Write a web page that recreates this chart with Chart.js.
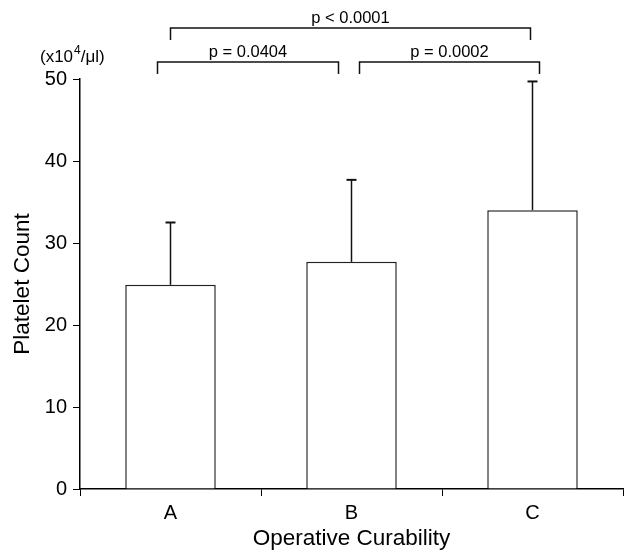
<!DOCTYPE html>
<html>
<head>
<meta charset="utf-8">
<style>
  html, body { margin: 0; padding: 0; background: #fff; }
  canvas { display: block; }
</style>
</head>
<body>
<canvas id="barChart" width="625" height="553"></canvas>
<script src="https://cdn.jsdelivr.net/npm/chart.js"></script>
<script>
    var categories = ['A', 'B', 'C'];
    var means = [24.9, 27.7, 34.0];
    var sds = [7.6, 10.0, 15.7];
    var yTicks = [0, 10, 20, 30, 40, 50];
    // p-value brackets: from category, to category, label, row (0 = lower)
    var comparisons = [
        { from: 0, to: 1, label: 'p = 0.0404', row: 0 },
        { from: 1, to: 2, label: 'p = 0.0002', row: 0 },
        { from: 0, to: 2, label: 'p < 0.0001', row: 1 }
    ];

    var FONT = "'Liberation Sans', Arial, Helvetica, sans-serif";

    var errorBars = {
        id: 'errorBars',
        afterDatasetsDraw: function (chart) {
            var ctx = chart.ctx;
            var x = chart.scales.x, y = chart.scales.y;
            ctx.save();
            ctx.strokeStyle = '#111';
            for (var i = 0; i < means.length; i++) {
                var px = x.getPixelForValue(i);
                var top = y.getPixelForValue(means[i] + sds[i]);
                var base = y.getPixelForValue(means[i]);
                ctx.lineWidth = 1.5;
                ctx.beginPath();
                ctx.moveTo(px, base);
                ctx.lineTo(px, top);
                ctx.stroke();
                ctx.lineWidth = 2;
                ctx.beginPath();
                ctx.moveTo(px - 5, top);
                ctx.lineTo(px + 5, top);
                ctx.stroke();
            }
            ctx.restore();
        }
    };

    var brackets = {
        id: 'brackets',
        afterDraw: function (chart) {
            var ctx = chart.ctx;
            var x = chart.scales.x;
            var area = chart.chartArea;
            ctx.save();
            ctx.strokeStyle = '#111';
            ctx.fillStyle = '#000';
            ctx.lineWidth = 1.5;
            ctx.font = '16.5px ' + FONT;
            ctx.textAlign = 'center';
            ctx.textBaseline = 'alphabetic';
            comparisons.forEach(function (c) {
                var x1, x2;
                if (c.row === 1) {
                    x1 = x.getPixelForValue(c.from);
                    x2 = x.getPixelForValue(c.to) - 2;
                } else if (c.from === 0) {
                    x1 = x.getPixelForValue(c.from) - 13;
                    x2 = x.getPixelForValue(c.to) - 13;
                } else {
                    x1 = x.getPixelForValue(c.from) + 8;
                    x2 = x.getPixelForValue(c.to) + 7;
                }
                var yLine = area.top - 17 - c.row * 34;
                var yEnd = yLine + 12;
                ctx.beginPath();
                ctx.moveTo(x1, yEnd);
                ctx.lineTo(x1, yLine);
                ctx.lineTo(x2, yLine);
                ctx.lineTo(x2, yEnd);
                ctx.stroke();
                ctx.fillText(c.label, (x1 + x2) / 2, yLine - 5);
            });

            // unit label (x10^4/ul)
            var ux = 40, uy = 62;
            ctx.textAlign = 'left';
            ctx.font = '17px ' + FONT;
            var s1 = '(x10';
            ctx.fillText(s1, ux, uy);
            ux += ctx.measureText(s1).width + 1;
            ctx.font = '12px ' + FONT;
            ctx.fillText('4', ux, uy - 8);
            ux += ctx.measureText('4').width;
            ctx.font = '17px ' + FONT;
            ctx.fillText('/\u03bcl)', ux, uy);
            ctx.restore();
        }
    };

    var ctx = document.getElementById('barChart').getContext('2d');
    var data = {
        labels: categories,
        datasets: [{
            data: means,
            backgroundColor: '#ffffff',
            borderColor: '#222',
            borderWidth: 1.5,
            categoryPercentage: 1.0,
            barPercentage: 0.5
        }]
    };
    var options = {
        responsive: false,
        maintainAspectRatio: false,
        animation: false,
        devicePixelRatio: 1,
        layout: { padding: { top: 79, right: 2, left: 0, bottom: 0 } },
        plugins: {
            legend: { display: false },
            tooltip: { enabled: false }
        },
        scales: {
            x: {
                grid: {
                    display: true, drawOnChartArea: false, drawTicks: true,
                    tickLength: 7, color: '#000', lineWidth: 1, offset: true
                },
                border: { display: true, color: '#000', width: 1.5 },
                ticks: { color: '#000', padding: 5, font: { family: FONT, size: 20 } },
                title: {
                    display: true, text: 'Operative Curability', color: '#000',
                    font: { family: FONT, size: 22.5 }, padding: { top: 0, bottom: 1 }
                },
                afterFit: function (scale) { scale.height = 64; }
            },
            y: {
                min: 0,
                max: 50,
                afterBuildTicks: function (scale) {
                    scale.ticks = yTicks.map(function (v) { return { value: v }; });
                },
                grid: {
                    display: true, drawOnChartArea: false, drawTicks: true,
                    tickLength: 7, color: '#000', lineWidth: 1
                },
                border: { display: true, color: '#000', width: 1.5 },
                ticks: { color: '#000', padding: 6, font: { family: FONT, size: 20 } },
                title: {
                    display: true, text: 'Platelet Count', color: '#000',
                    font: { family: FONT, size: 22.5 }, padding: { top: 9, bottom: 0 }
                },
                afterFit: function (scale) { scale.width = 80; }
            }
        }
    };
    var myBarChart = new Chart(ctx, {
        type: 'bar',
        data: data,
        options: options,
        plugins: [errorBars, brackets]
    });
</script>
</body>
</html>
